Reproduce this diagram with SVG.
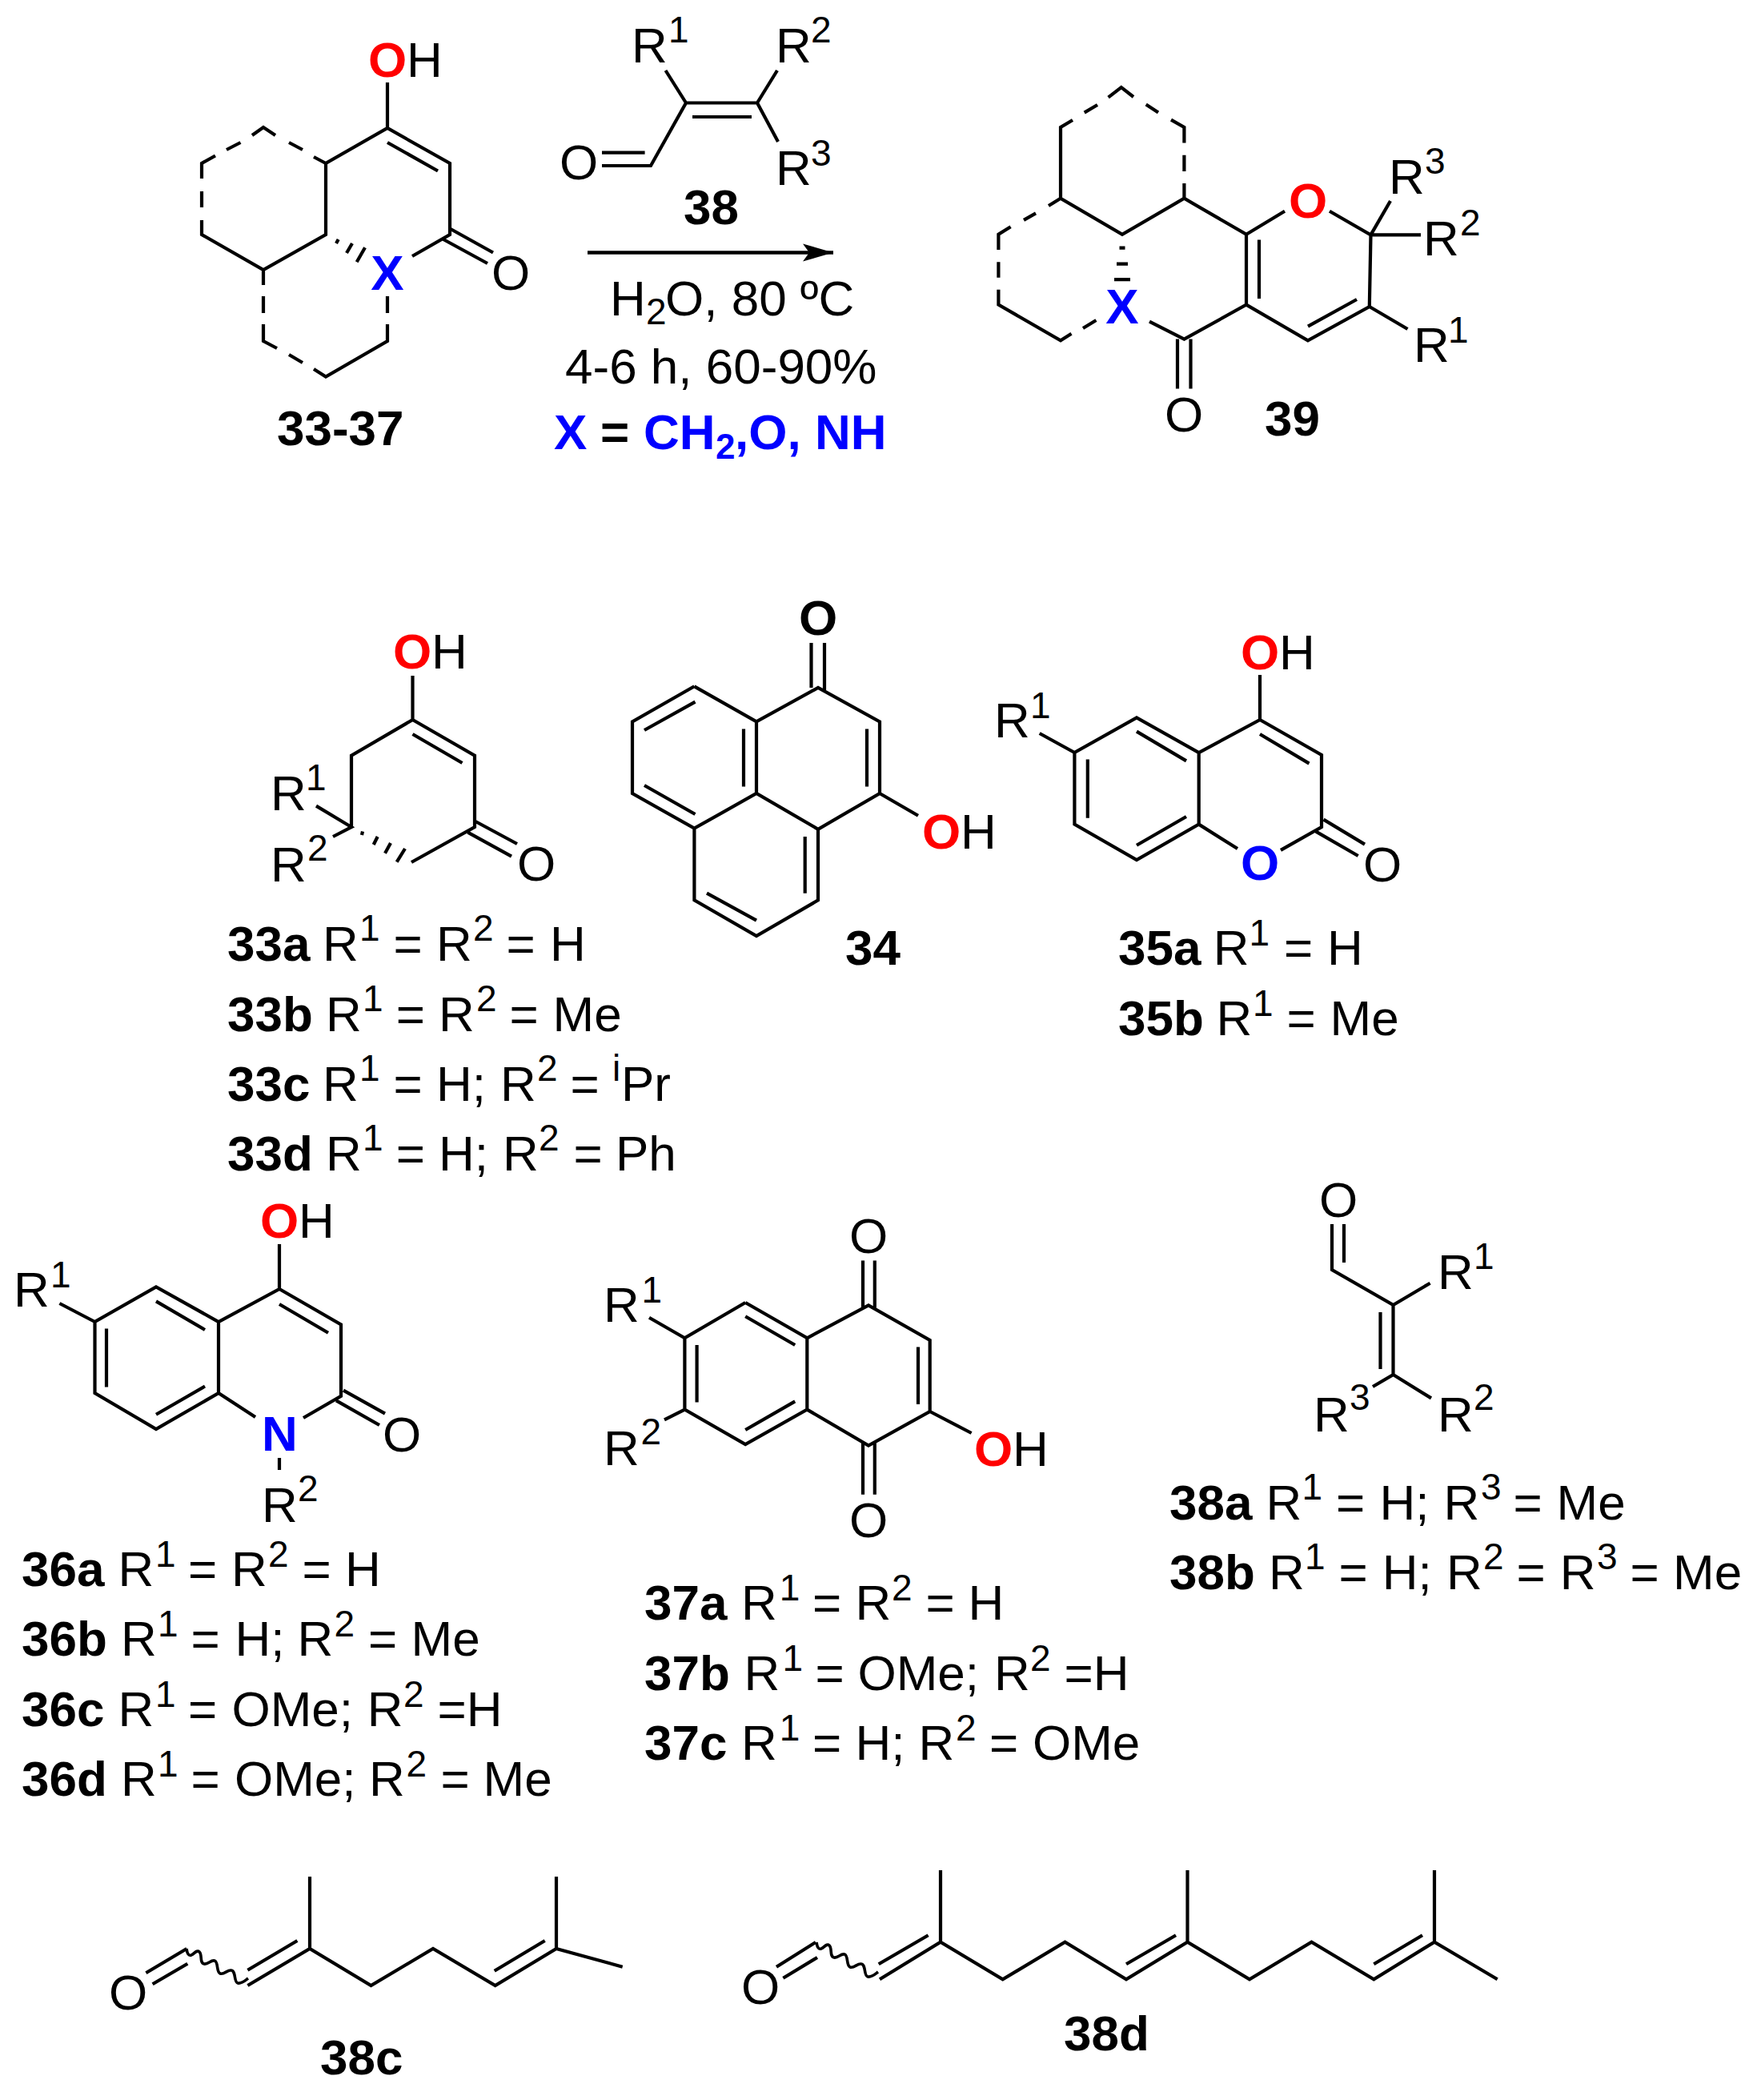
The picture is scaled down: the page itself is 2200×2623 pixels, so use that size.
<svg xmlns="http://www.w3.org/2000/svg" width="2200" height="2623" viewBox="0 0 2200 2623">
<style>
text{font-family:"Liberation Sans",Arial,sans-serif;font-size:62px;fill:#000}
.b{font-weight:bold}
.s{font-size:46px}
.sb{font-size:44px;font-weight:bold;fill:#00f}
.r{font-weight:bold;fill:#f00}
.u{font-weight:bold;fill:#00f}
.k{fill:none;stroke:#000;stroke-width:4.2;stroke-linejoin:miter;stroke-miterlimit:10}
.w{fill:none;stroke:#000;stroke-width:3.6}
</style>
<defs>
<marker id="head" markerUnits="userSpaceOnUse" markerWidth="40" markerHeight="24" refX="38" refY="12" orient="auto" viewBox="0 0 40 24"><path d="M38 12L0 1L8 12L0 23Z" fill="#000"/></marker>
<path id="wave" class="w" d="M233 2434C234 2441 236 2443 239 2442C243 2440 246 2435 249 2438C253 2441 249 2452 255 2453C260 2454 263 2448 268 2449C273 2450 270 2463 275 2465C280 2467 284 2460 289 2461C295 2462 292 2476 297 2477C302 2478 306 2474 310 2471"/>
</defs>
<rect width="2200" height="2623" fill="#fff"/>

<g id="connectors">
<line x1="734" y1="315.5" x2="1041" y2="315.5" stroke="#000" stroke-width="4.4" marker-end="url(#head)"/>
</g>

<g id="c33-37">
<path class="k" d="M252 275V293L329 337L407 293V204L484 160L562 204V293L515 320M484 103V160M484 178L547 213.5M252 239V259M252 223V204L269 194.5M283 187L300.5 178M315 169L329 159L344 169M361 178L378 187M392 196L407 204M329 337V356M329 370V391M329 405V426L346 435M361 443L378 453M392 461L407 470.5L484 426V405M484 391V370M562 285.5L616 315.5M553 298.5L609 329M422.7 299L420 304M440 304L433 316M456 309.3L445.7 327.3"/>
<text y="95.5"><tspan class="r" x="460">O</tspan><tspan x="508">H</tspan></text>
<text class="u" x="484" y="362" text-anchor="middle">X</text>
<text x="614" y="362">O</text>
<text class="b" x="346" y="555.5">33-37</text>
</g>

<g id="c38-top">
<path class="k" d="M831.5 88L857 128.5L813 207H752M805.6 190.6H752M857 128.5H946L971 88M946 128.5L972 177M865 146H939"/>
<text y="78"><tspan x="789">R</tspan><tspan class="s" x="835" y="52.5">1</tspan></text>
<text y="78"><tspan x="969">R</tspan><tspan class="s" x="1013" y="52.5">2</tspan></text>
<text y="231"><tspan x="969">R</tspan><tspan class="s" x="1013" y="207">3</tspan></text>
<text x="699" y="223.5">O</text>
<text class="b" x="854" y="279.5">38</text>
</g>

<g id="conditions">
<text y="393.5"><tspan x="762">H</tspan><tspan class="s" x="807" y="405">2</tspan><tspan x="831" y="393.5">O, 80 ºC</tspan></text>
<text x="706" y="478.5">4-6 h, 60-90%</text>
<text y="560.5"><tspan class="u" x="692">X</tspan><tspan class="b" x="750">=</tspan><tspan class="u" x="804">CH</tspan><tspan class="sb" x="894" y="573">2</tspan><tspan class="u" x="918" y="560.5">,O, NH</tspan></text>
</g>

<g id="c39">
<path class="k" d="M1340 150L1325 158.9V247.8L1402 292.7L1479.4 247.8L1557 292.7V380.6L1479.4 423.6L1436 401.6M1557 292.7L1605 263.7M1661 263.7L1712.5 293.4L1710.8 383L1633.9 425.3L1557 380.6M1573 299.5V373M1634 407.7L1695 374M1479.4 247.8L1479.4 229M1479.4 214V193.7M1354.7 140.6L1371 131M1384.6 121.7L1400.8 109.2L1416 121M1431.7 130.5L1447 140.6M1463 149.7L1479.4 158.9V178.5M1325 247.8L1310 257M1294 266.4L1279 274.8M1262.6 283.3L1247.4 292.7V312M1247.4 327.2V346.8M1247.4 361.7V380.6L1325 425.3L1338.5 416.8M1353 410L1369.4 400M1712.5 293.4L1737 251M1712.5 293.4H1775M1710.8 383L1758.5 411M1471 423.6V485.4M1487.5 423.6V485.4"/>
<path class="k" d="M1398.5 309.6H1405.5M1395 329.6H1409M1392 349.2H1412"/>
<text class="r" x="1610" y="271.5">O</text>
<text class="u" x="1402" y="404.3" text-anchor="middle">X</text>
<text y="242"><tspan x="1735">R</tspan><tspan class="s" x="1780" y="217">3</tspan></text>
<text y="318.8"><tspan x="1778">R</tspan><tspan class="s" x="1824" y="294">2</tspan></text>
<text y="452"><tspan x="1766">R</tspan><tspan class="s" x="1809" y="428">1</tspan></text>
<text x="1455" y="538.5">O</text>
<text class="b" x="1580" y="544">39</text>
</g>

<g id="c33">
<path class="k" d="M515.5 844V899L439 943.6V1033M515.5 899L593 943.6V1033L514 1077M515.5 917L577.5 953M594 1026L646 1054M584.4 1039.6L639 1069.6M395 1006.6L439 1033L416 1045M453 1038.5L452 1043M471.7 1045L466.7 1055M488 1053L481 1065.7M506 1060L495.7 1076.7"/>
<text y="834.5"><tspan class="r" x="491">O</tspan><tspan x="539">H</tspan></text>
<text x="646" y="1099.7">O</text>
<text y="1011.5"><tspan x="338">R</tspan><tspan class="s" x="382" y="987">1</tspan></text>
<text y="1101"><tspan x="338">R</tspan><tspan class="s" x="384" y="1075">2</tspan></text>
<text y="1199.5"><tspan class="b" x="284">33a</tspan><tspan x="403">R</tspan><tspan class="s" x="449" y="1175">1</tspan><tspan x="491.5" y="1199.5">=</tspan><tspan x="545">R</tspan><tspan class="s" x="591" y="1175">2</tspan><tspan x="632.5" y="1199.5">=</tspan><tspan x="687">H</tspan></text>
<text y="1288"><tspan class="b" x="284">33b</tspan><tspan x="407">R</tspan><tspan class="s" x="453" y="1263">1</tspan><tspan x="494.7" y="1288">=</tspan><tspan x="548">R</tspan><tspan class="s" x="595" y="1263">2</tspan><tspan x="636.5" y="1288">=</tspan><tspan x="690.5">Me</tspan></text>
<text y="1375"><tspan class="b" x="284">33c</tspan><tspan x="403">R</tspan><tspan class="s" x="449" y="1350">1</tspan><tspan x="491.5" y="1375">=</tspan><tspan x="545">H;</tspan><tspan x="625">R</tspan><tspan class="s" x="671" y="1350">2</tspan><tspan x="712.5" y="1375">=</tspan><tspan class="s" x="765" y="1350">i</tspan><tspan x="776" y="1375">Pr</tspan></text>
<text y="1462"><tspan class="b" x="284">33d</tspan><tspan x="407">R</tspan><tspan class="s" x="453" y="1437">1</tspan><tspan x="494.7" y="1462">=</tspan><tspan x="548">H;</tspan><tspan x="628">R</tspan><tspan class="s" x="673" y="1437">2</tspan><tspan x="716.5" y="1462">=</tspan><tspan x="769">Ph</tspan></text>
</g>

<g id="c34">
<path class="k" d="M867.4 857.3L790 901.4V991L867.4 1034.7L945 991L1022 1035.7L1099 991V901.4L1022 859L945 901.4L867.4 857.3M945 901.4V991M1022 1035.7V1124.4L945 1169L867.4 1124.4V1034.7M868.5 876.7L805 912M805 981L868.5 1017M1083 910.6V982.4M929 910.6V982.4M1005.7 1045V1115.7M883 1115.7L945 1149.6M1013.5 803V859M1030 803V864M1099 991L1147 1018.7"/>
<text class="b" x="998" y="793">O</text>
<text y="1060"><tspan class="r" x="1152">O</tspan><tspan x="1200">H</tspan></text>
<text class="b" x="1056" y="1205">34</text>
</g>

<g id="c35">
<path class="k" d="M1574 843V899L1497.7 940L1420 896.4L1342.4 940V1029.6L1420 1074L1497.7 1029.6V940M1574 899L1651 943V1033L1600 1061.8M1497.7 1029.6L1546 1060M1420 913.6L1482 950.4M1358.8 948.6V1021.8M1420 1055.7L1482 1020M1574 917L1635.5 953.6M1653.5 1023.6L1705 1054.6M1644 1038.6L1696.7 1069M1298.7 916L1342.4 940"/>
<text y="835.7"><tspan class="r" x="1550">O</tspan><tspan x="1598">H</tspan></text>
<text class="u" x="1550" y="1099">O</text>
<text x="1703" y="1101">O</text>
<text y="921.4"><tspan x="1242">R</tspan><tspan class="s" x="1287" y="896.8">1</tspan></text>
<text y="1204.6"><tspan class="b" x="1397">35a</tspan><tspan x="1515.7">R</tspan><tspan class="s" x="1560.5" y="1180.7">1</tspan><tspan x="1604" y="1204.6">=</tspan><tspan x="1658">H</tspan></text>
<text y="1293"><tspan class="b" x="1397">35b</tspan><tspan x="1519.5">R</tspan><tspan class="s" x="1565" y="1269">1</tspan><tspan x="1607.5" y="1293">=</tspan><tspan x="1661.5">Me</tspan></text>
</g>

<g id="c36">
<path class="k" d="M349 1554V1610L273 1651L195 1607.5L118.5 1651V1740L195 1785L273 1740V1651M349 1610L426 1654.5V1743.8L379 1771M273 1740L319 1770M349 1821V1836M195 1625.4L256 1661M133 1659.6V1732.6M195 1766.7L256 1731.5M349 1629L410 1664.7M429 1736.6L481 1765.7M420 1749.4L474 1780M74.4 1628L118.5 1651"/>
<text y="1546.3"><tspan class="r" x="325">O</tspan><tspan x="373">H</tspan></text>
<text class="u" x="327" y="1811.6">N</text>
<text x="478" y="1812.6">O</text>
<text y="1632"><tspan x="17">R</tspan><tspan class="s" x="63" y="1607.5">1</tspan></text>
<text y="1901"><tspan x="327">R</tspan><tspan class="s" x="372" y="1875.4">2</tspan></text>
<text y="1981"><tspan class="b" x="27">36a</tspan><tspan x="147.4">R</tspan><tspan class="s" x="194" y="1957">1</tspan><tspan x="235" y="1981">=</tspan><tspan x="289">R</tspan><tspan class="s" x="335" y="1957">2</tspan><tspan x="377.5" y="1981">=</tspan><tspan x="431">H</tspan></text>
<text y="2067.8"><tspan class="b" x="27">36b</tspan><tspan x="151">R</tspan><tspan class="s" x="197" y="2043.8">1</tspan><tspan x="238.5" y="2067.8">=</tspan><tspan x="293.4">H;</tspan><tspan x="371.5">R</tspan><tspan class="s" x="417.5" y="2043.8">2</tspan><tspan x="460" y="2067.8">=</tspan><tspan x="513.5">Me</tspan></text>
<text y="2156"><tspan class="b" x="27">36c</tspan><tspan x="147.4">R</tspan><tspan class="s" x="194" y="2132">1</tspan><tspan x="235" y="2156">=</tspan><tspan x="289.5">OMe;</tspan><tspan x="458.7">R</tspan><tspan class="s" x="504" y="2132">2</tspan><tspan x="546.5" y="2156">=H</tspan></text>
<text y="2242.7"><tspan class="b" x="27">36d</tspan><tspan x="151">R</tspan><tspan class="s" x="197" y="2218.7">1</tspan><tspan x="238.5" y="2242.7">=</tspan><tspan x="293">OMe;</tspan><tspan x="461">R</tspan><tspan class="s" x="507.5" y="2218.7">2</tspan><tspan x="550.5" y="2242.7">=</tspan><tspan x="603.5">Me</tspan></text>
</g>

<g id="c37">
<path class="k" d="M931.2 1627L855.4 1671.3V1760.6L931.2 1804L1008.3 1760.6V1671.3L931.2 1627M1008.3 1671.3L1085 1630.5L1161.7 1674V1763L1085 1805.5L1008.3 1760.6M931.2 1644.3L993.2 1680M870.6 1680V1751.4M931.2 1786L993.2 1750.4M1147 1682.6V1754M1078 1574.4V1634M1092.8 1574.4V1634M1078 1802V1866.7M1092.8 1802V1866.7M1161.7 1763L1213.6 1790M811 1645.8L855.4 1671.3M830 1773.4L855.4 1760.6"/>
<text x="1061" y="1565">O</text>
<text x="1061" y="1920">O</text>
<text y="1831"><tspan class="r" x="1217">O</tspan><tspan x="1265">H</tspan></text>
<text y="1651"><tspan x="754">R</tspan><tspan class="s" x="801.5" y="1627">1</tspan></text>
<text y="1829.5"><tspan x="754">R</tspan><tspan class="s" x="800.5" y="1804">2</tspan></text>
<text y="2023.4"><tspan class="b" x="805">37a</tspan><tspan x="926">R</tspan><tspan class="s" x="973.7" y="1999.4">1</tspan><tspan x="1015" y="2023.4">=</tspan><tspan x="1068.5">R</tspan><tspan class="s" x="1114" y="1999.4">2</tspan><tspan x="1156.5" y="2023.4">=</tspan><tspan x="1209.5">H</tspan></text>
<text y="2111"><tspan class="b" x="805">37b</tspan><tspan x="929.4">R</tspan><tspan class="s" x="977.4" y="2087">1</tspan><tspan x="1018.5" y="2111">=</tspan><tspan x="1071.5">OMe;</tspan><tspan x="1242">R</tspan><tspan class="s" x="1287" y="2087">2</tspan><tspan x="1329.5" y="2111">=H</tspan></text>
<text y="2198.4"><tspan class="b" x="805">37c</tspan><tspan x="926">R</tspan><tspan class="s" x="973.7" y="2174.4">1</tspan><tspan x="1015" y="2198.4">=</tspan><tspan x="1068.5">H;</tspan><tspan x="1147.5">R</tspan><tspan class="s" x="1194" y="2174.4">2</tspan><tspan x="1236" y="2198.4">=</tspan><tspan x="1290">OMe</tspan></text>
</g>

<g id="c38-mid">
<path class="k" d="M1664 1529V1586L1740.5 1630V1717L1715 1732M1740.5 1717L1788 1746.4M1679 1529V1577M1724.5 1639V1710M1740.5 1630L1786.6 1602.7"/>
<text x="1648" y="1520">O</text>
<text y="1610"><tspan x="1796">R</tspan><tspan class="s" x="1841" y="1584.5">1</tspan></text>
<text y="1787.5"><tspan x="1796">R</tspan><tspan class="s" x="1841" y="1761">2</tspan></text>
<text y="1787.5"><tspan x="1641">R</tspan><tspan class="s" x="1686" y="1761">3</tspan></text>
<text y="1898"><tspan class="b" x="1461">38a</tspan><tspan x="1581.4">R</tspan><tspan class="s" x="1626.5" y="1872.5">1</tspan><tspan x="1669" y="1898">=</tspan><tspan x="1723.4">H;</tspan><tspan x="1803.4">R</tspan><tspan class="s" x="1850" y="1872.5">3</tspan><tspan x="1890.5" y="1898">=</tspan><tspan x="1944.5">Me</tspan></text>
<text y="1985"><tspan class="b" x="1461">38b</tspan><tspan x="1585">R</tspan><tspan class="s" x="1630" y="1959.5">1</tspan><tspan x="1672.5" y="1985">=</tspan><tspan x="1726.8">H;</tspan><tspan x="1807">R</tspan><tspan class="s" x="1853" y="1959.5">2</tspan><tspan x="1894.5" y="1985">=</tspan><tspan x="1948.8">R</tspan><tspan class="s" x="1995" y="1959.5">3</tspan><tspan x="2036.5" y="1985">=</tspan><tspan x="2090">Me</tspan></text>
</g>

<g id="c38c">
<path class="k" d="M309.4 2480L387 2434L463.5 2480L541 2434L618.7 2480L695 2434L777.7 2456.7M387 2344V2434M695 2344V2434M309.4 2460.7L371.4 2424M617.7 2461.7L680.7 2424M182.4 2464.3L233.3 2434M190.6 2478.3L234.3 2452.7"/>
<use href="#wave"/>
<text x="136" y="2510">O</text>
<text class="b" x="400" y="2590.7">38c</text>
</g>

<g id="c38d">
<path class="k" d="M1099 2472.3L1175 2425.7L1252.7 2472.3L1330.5 2425.7L1407 2472.3L1483.5 2425.7L1561 2472.3L1638.5 2425.7L1716.3 2472.3L1792 2425.7L1870.7 2472.3M1175 2336V2425.7M1483.5 2336V2425.7M1792 2336V2425.7M1097.7 2453.3L1159.6 2417.3M1407 2453.3L1469 2417.3M1716.3 2453.3L1777 2417.3M970 2456.7L1019 2426M978.4 2470.7L1021 2445"/>
<use href="#wave" transform="translate(787 -8)"/>
<text x="926" y="2502.7">O</text>
<text class="b" x="1329" y="2560.7">38d</text>
</g>
</svg>
